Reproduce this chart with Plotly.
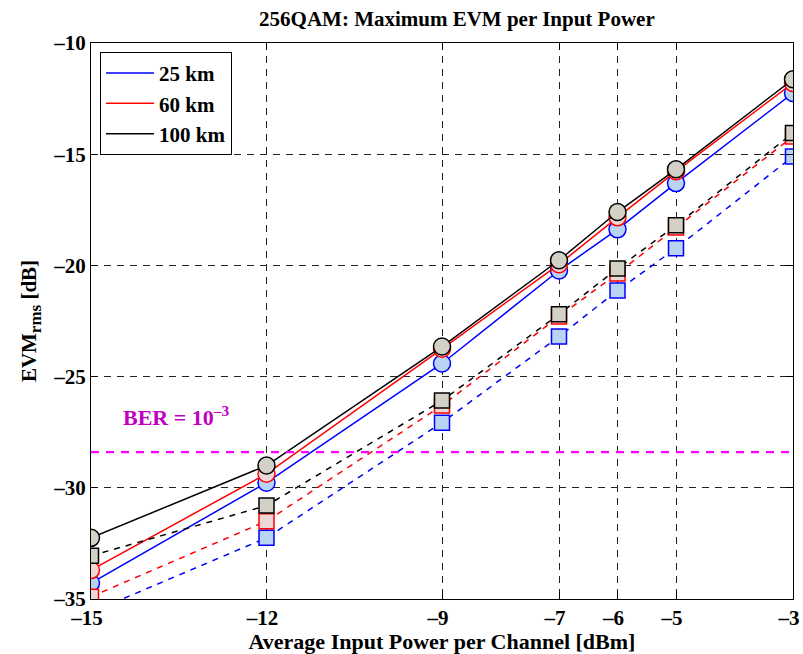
import plotly.graph_objects as go

# Input power per channel [dBm]
power_dbm = [-15, -12, -9, -7, -6, -5, -3]

# Maximum EVM (circles, solid lines) per fibre length [dB]
evm_circ_25km = [-34.28, -29.77, -24.41, -20.23, -18.38, -16.30, -12.25]
evm_circ_60km = [-33.70, -29.37, -23.75, -19.95, -17.84, -15.77, -11.80]
evm_circ_100km = [-32.25, -29.00, -23.65, -19.77, -17.60, -15.68, -11.63]

# EVM (squares, dashed lines) per fibre length [dB]
evm_sq_25km = [-35.60, -32.25, -27.07, -23.20, -21.13, -19.23, -15.10]
evm_sq_60km = [-34.90, -31.50, -26.30, -22.30, -20.36, -18.30, -14.20]
evm_sq_100km = [-33.06, -30.80, -26.08, -22.20, -20.14, -18.20, -14.05]

# EVM threshold for BER = 1e-3
ber_threshold_db = -28.4

x_ticks = [-15, -12, -9, -7, -6, -5, -3]
x_ticktext = ["–15", "–12", "–9", "–7", "–6", "–5", "–3"]
y_ticks = [-35, -30, -25, -20, -15, -10]
y_ticktext = ["–35", "–30", "–25", "–20", "–15", "–10"]

FONT = "Liberation Serif"

series = [
    ("25 km", "#0000ff", "#b9d3f3", evm_circ_25km, evm_sq_25km),
    ("60 km", "#ff0000", "#ecd6d6", evm_circ_60km, evm_sq_60km),
    ("100 km", "#000000", "#d3d0c6", evm_circ_100km, evm_sq_100km),
]

fig = go.Figure()

for name, line_col, fill_col, circ, sq in series:
    fig.add_trace(go.Scatter(
        x=power_dbm, y=sq, mode="lines+markers", showlegend=False,
        line=dict(color=line_col, width=1.5, dash="6px,6px"),
        marker=dict(symbol="square", size=15, color=fill_col,
                    line=dict(color=line_col, width=1.5)),
    ))
    fig.add_trace(go.Scatter(
        x=power_dbm, y=circ, mode="lines+markers", showlegend=False,
        line=dict(color=line_col, width=1.5),
        marker=dict(symbol="circle", size=17, color=fill_col,
                    line=dict(color=line_col, width=1.5)),
    ))

# Legend entries show line samples only
for name, line_col, fill_col, circ, sq in series:
    fig.add_trace(go.Scatter(
        x=[None], y=[None], mode="lines", name=name,
        line=dict(color=line_col, width=1.5),
    ))

fig.add_hline(y=ber_threshold_db, line=dict(color="#ff00ff", width=2.2, dash="8px,7px"))

fig.add_annotation(
    x=-13.55, y=ber_threshold_db + 1.65, xref="x", yref="y",
    text="<b>BER = 10<sup>–3</sup></b>", showarrow=False,
    font=dict(family=FONT, size=22, color="#c000c0"),
)

axis_common = dict(
    showline=True, linecolor="black", linewidth=1, mirror="ticks",
    ticks="inside", ticklen=7, tickcolor="black", tickwidth=1,
    showgrid=True, gridcolor="#222222", gridwidth=1, griddash="7px,6px",
    zeroline=False, ticklabeloverflow="allow", automargin=False,
    tickfont=dict(family=FONT, size=21, color="black", weight="bold"),
)

fig.update_xaxes(
    range=[-15, -3], tickvals=x_ticks, ticktext=x_ticktext, ticklabelshift=-4,
    title=dict(text="<b>Average Input Power per Channel [dBm]</b>",
               font=dict(family=FONT, size=22, color="black"), standoff=2),
    **axis_common,
)
fig.update_yaxes(
    range=[-35, -10], tickvals=y_ticks, ticktext=y_ticktext,
    title=dict(text="<b>EVM<sub><span style='font-size:17px'>rms</span></sub> [dB]</b>",
               font=dict(family=FONT, size=21, color="black"), standoff=10),
    **axis_common,
)

fig.update_layout(
    width=803, height=654,
    margin=dict(l=91, r=10, t=43, b=55),
    paper_bgcolor="white", plot_bgcolor="white",
    title=dict(text="<b>256QAM: Maximum EVM per Input Power</b>",
               x=0.569, xanchor="center", y=0.972, yanchor="middle",
               font=dict(family=FONT, size=21, color="black")),
    legend=dict(
        x=0.0128, y=0.984, xanchor="left", yanchor="top",
        bgcolor="white", bordercolor="black", borderwidth=1,
        font=dict(family=FONT, size=21, color="black", weight="bold"),
        itemwidth=48, tracegroupgap=0,
    ),
    showlegend=True,
)

fig.write_html("out.html")
